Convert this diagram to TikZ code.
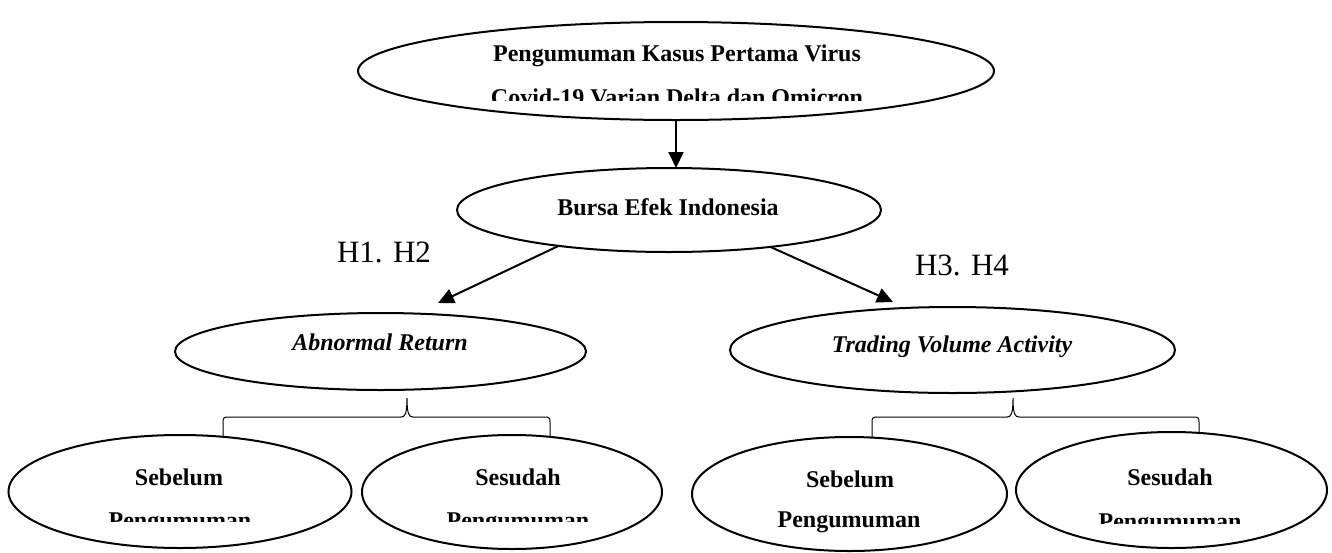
\documentclass[tikz,border=0pt]{standalone}
\usepackage{fontspec}
\setmainfont{Liberation Serif}
\usetikzlibrary{shapes.geometric,arrows.meta}
\begin{document}
\begin{tikzpicture}[x=1pt,y=-1pt,
  ell/.style={ellipse,draw,line width=2pt,inner sep=0pt,outer sep=0pt},
  lbl/.style={anchor=base,inner sep=0pt,font=\fontsize{24}{28}\selectfont\bfseries},
  lbli/.style={anchor=base,inner sep=0pt,font=\fontsize{24}{28}\selectfont\bfseries\itshape},
  hyp/.style={anchor=base,inner sep=0pt,font=\fontsize{31}{36}\selectfont},
  arr/.style={line width=2pt,-{Triangle[length=16pt,width=15pt]}},
  brc/.style={line width=1pt}]
\path[use as bounding box] (0,0) rectangle (1332,552);

% top ellipse
\node[ell,minimum width=636pt,minimum height=98pt] (top) at (676,71) {};
\node[lbl] (t1) at (677,61) {Pengumuman Kasus Pertama Virus};
\begin{scope}
  \clip (360,64) rectangle (990,100);
  \node[lbl] (t2) at (677,105) {Covid-19 Varian Delta dan Omicron};
\end{scope}

% middle
\node[ell,minimum width=424pt,minimum height=84pt] (bei) at (669,210) {};
\node[lbl] (beit) at (668,215) {Bursa Efek Indonesia};

% second level
\node[ell,minimum width=411pt,minimum height=77pt] (ar) at (380.5,351.5) {};
\node[lbli] (art) at (380,350) {Abnormal Return};
\node[ell,minimum width=445pt,minimum height=86pt] (tva) at (952.5,350) {};
\node[lbli] (tvat) at (952,352) {Trading Volume Activity};

% hypotheses
\node[hyp] (h12) at (384,262) {H1. H2};
\node[hyp] (h34) at (962,275) {H3. H4};

% arrows
\coordinate (tipL) at (438,303);
\coordinate (tipR) at (893,302);
\draw[arr] (top.south) -- (top.south |- bei.north);
\draw[arr] (bei.198) -- (tipL);
\draw[arr] (bei.-20) -- (tipR);

% braces
\draw[brc] (223,436) -- (223,422) .. controls (223,418) and (224,417) .. (228,417)
  -- (401,417) .. controls (405,417) and (407,414) .. (407,398)
  .. controls (407,414) and (409,417) .. (413,417)
  -- (545,417) .. controls (549,417) and (550,418) .. (550,422) -- (550,436);
\draw[brc] (872,437) -- (872,422) .. controls (872,418) and (873,417) .. (877,417)
  -- (1007,417) .. controls (1011,417) and (1013,414) .. (1013,398)
  .. controls (1013,414) and (1015,417) .. (1019,417)
  -- (1194,417) .. controls (1198,417) and (1199,418) .. (1199,422) -- (1199,434);

% bottom ellipses
\node[ell,minimum width=343pt,minimum height=113pt] (bl1) at (180,491.5) {};
\node[ell,minimum width=300pt,minimum height=114pt] (bl2) at (512,492) {};
\node[ell,minimum width=315pt,minimum height=114pt] (br1) at (849.5,494) {};
\node[ell,minimum width=311pt,minimum height=116pt] (br2) at (1171.5,490) {};

\node[lbl] (bl1a) at (179,485) {Sebelum};
\node[lbl] (bl2a) at (518,485) {Sesudah};
\node[lbl] (br1a) at (850,487) {Sebelum};
\node[lbl] (br1b) at (849,527) {Pengumuman};
\node[lbl] (br2a) at (1170,485) {Sesudah};
\begin{scope}
  \clip (0,500) rectangle (700,521);
  \node[lbl] (bl1b) at (180,528) {Pengumuman};
  \node[lbl] (bl2b) at (518,528) {Pengumuman};
\end{scope}
\begin{scope}
  \clip (1000,500) rectangle (1332,523);
  \node[lbl] (br2b) at (1170,529) {Pengumuman};
\end{scope}
\end{tikzpicture}
\end{document}
